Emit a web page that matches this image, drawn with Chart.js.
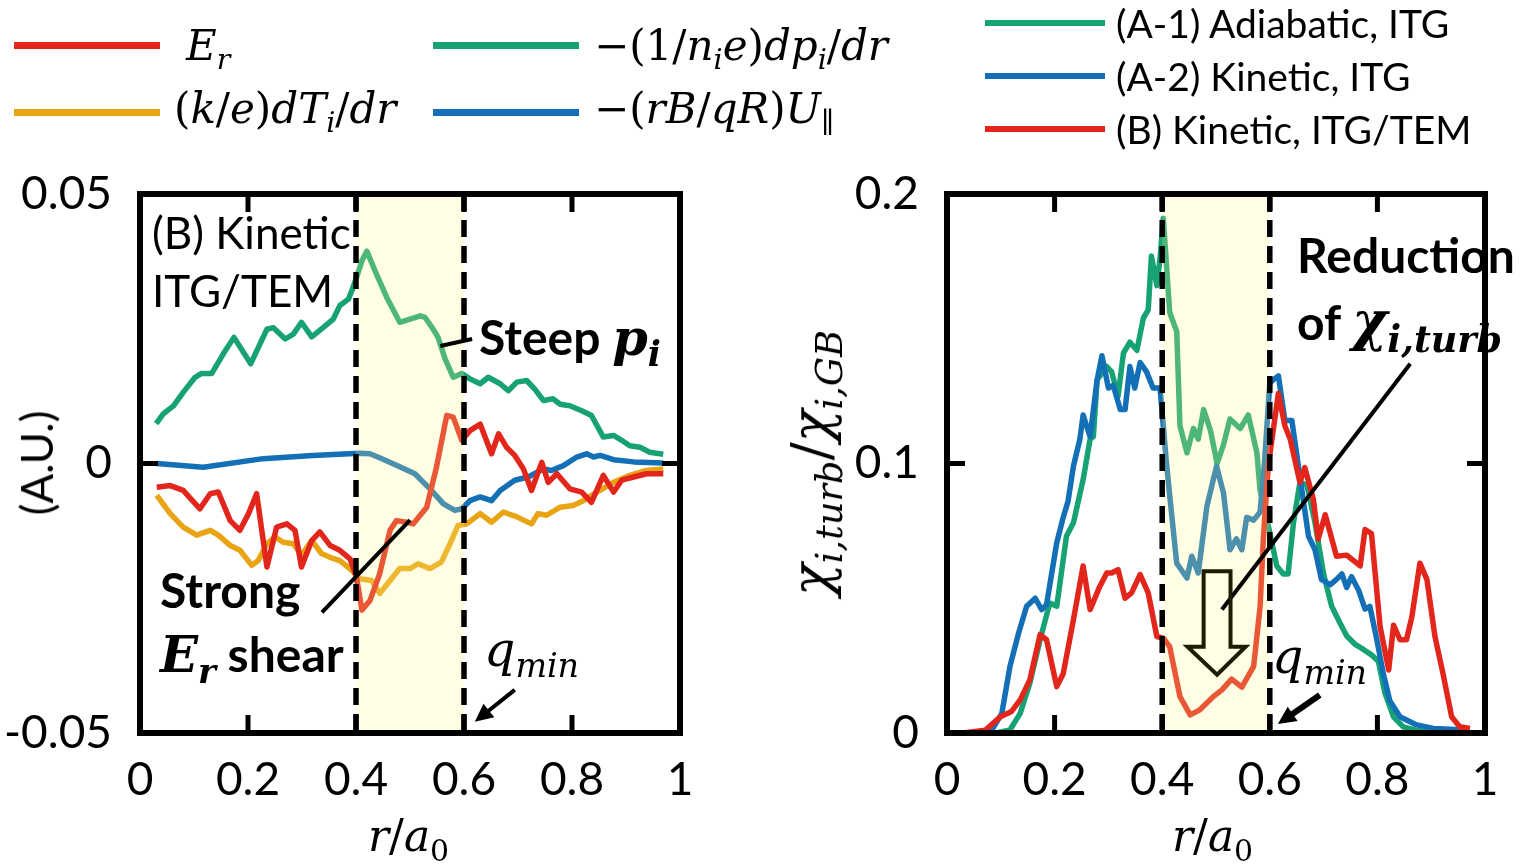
<!DOCTYPE html>
<html>
<head>
<meta charset="utf-8">
<script src="https://cdn.jsdelivr.net/npm/chart.js@4.4.1/dist/chart.umd.min.js"></script>
<style>
  html, body { margin: 0; padding: 0; background: #fff; }
  body { width: 1523px; height: 866px; position: relative; overflow: hidden; font-family: Lato, sans-serif; color: #000; }
  .panel { position: absolute; top: 0; height: 866px; }
  .t { position: absolute; white-space: nowrap; line-height: 1; }
  .m { font-family: 'DejaVu Serif', serif; }
  .m i { font-style: italic; }
  .m sub { font-size: 0.68em; vertical-align: -0.32em; line-height: 0; }
  .b { font-weight: bold; }
  .key { position: absolute; height: 7px; }
  .rot { transform: translate(-50%, -50%) rotate(-90deg); }
</style>
</head>
<body>
<div class="panel" style="left:0;width:760px"><canvas id="profiles"></canvas></div>
<div class="panel" style="left:760px;width:763px"><canvas id="chi"></canvas></div>

<!-- legende esquerda -->
<div class="key" style="left:14px;top:42px;width:146px;background:#E3261C"></div>
<div class="key" style="left:14px;top:109px;width:146px;background:#E8A413"></div>
<div class="key" style="left:433px;top:42px;width:146px;background:#17A276"></div>
<div class="key" style="left:433px;top:109px;width:146px;background:#1470B6"></div>
<div class="t m" style="left:186px;top:25px;font-size:42px"><i>E</i><sub><i>r</i></sub></div>
<div class="t m" style="left:174px;top:88px;font-size:42px">(<i>k</i>/<i>e</i>)<i>dT</i><sub><i>i</i></sub>/<i>dr</i></div>
<div class="t m" style="left:594px;top:25px;font-size:42px">−(1/<i>n</i><sub><i>i</i></sub><i>e</i>)<i>dp</i><sub><i>i</i></sub>/<i>dr</i></div>
<div class="t m" style="left:594px;top:88px;font-size:42px">−(<i>rB</i>/<i>qR</i>)<i>U</i><sub>∥</sub></div>

<!-- legende direita -->
<div class="key" style="left:985px;top:20px;width:120px;height:6px;background:#17A276"></div>
<div class="key" style="left:985px;top:73px;width:120px;height:6px;background:#1470B6"></div>
<div class="key" style="left:985px;top:126px;width:120px;height:6px;background:#E3261C"></div>
<div class="t" style="left:1116px;top:4px;font-size:39px">(A-1) Adiabatic, ITG</div>
<div class="t" style="left:1116px;top:57px;font-size:39px">(A-2) Kinetic, ITG</div>
<div class="t" style="left:1116px;top:110px;font-size:39px">(B) Kinetic, ITG/TEM</div>

<!-- textos do painel esquerdo -->
<div class="t" style="left:152px;top:210px;font-size:44px">(B) Kinetic</div>
<div class="t" style="left:152px;top:268px;font-size:44px">ITG/TEM</div>
<div class="t b" style="left:479px;top:312px;font-size:48px">Steep <span class="m" style="font-size:1.06em"><i>p</i><sub><i>i</i></sub></span></div>
<div class="t b" style="left:160px;top:566px;font-size:48px">Strong</div>
<div class="t b" style="left:160px;top:630px;font-size:48px"><span class="m" style="font-size:1.04em"><i>E</i><sub><i>r</i></sub></span> shear</div>
<div class="t m" style="left:484px;top:625px;font-size:49px"><i>q</i><sub><i>min</i></sub></div>
<div class="t rot" style="left:36px;top:463px;font-size:44px">(A.U.)</div>
<div class="t m" style="left:368px;top:814px;font-size:44px"><i>r</i>/<i>a</i><sub>0</sub></div>

<!-- textos do painel direito -->
<div class="t b" style="left:1297px;top:231px;font-size:48px">Reduction</div>
<div class="t b" style="left:1297px;top:295px;font-size:48px">of <span class="m" style="font-size:1.12em"><i>χ</i><sub><i>i,turb</i></sub></span></div>
<div class="t m" style="left:1272px;top:632px;font-size:49px"><i>q</i><sub><i>min</i></sub></div>
<div class="t m rot" style="left:812px;top:463px;font-size:54px"><i>χ</i><sub><i>i,turb</i></sub>/<i>χ</i><sub><i>i,GB</i></sub></div>
<div class="t m" style="left:1172px;top:814px;font-size:44px"><i>r</i>/<i>a</i><sub>0</sub></div>

<script>
// painel esquerdo: Er e seus componentes
const erX = [0.031,0.056,0.08,0.111,0.13,0.145,0.167,0.185,0.201,0.216,0.235,0.253,0.272,0.287,0.299,0.318,0.333,0.352,0.37,0.389,0.401,0.411,0.426,0.444,0.463,0.475,0.494,0.506,0.531,0.549,0.568,0.58,0.596,0.611,0.63,0.651,0.664,0.679,0.694,0.71,0.725,0.744,0.756,0.772,0.796,0.818,0.836,0.858,0.877,0.892,0.914,0.938,0.969];
const erY = [-0.0044,-0.0041,-0.005,-0.0084,-0.0056,-0.0053,-0.0106,-0.0124,-0.0093,-0.0056,-0.0192,-0.0118,-0.0112,-0.0124,-0.0192,-0.0143,-0.0127,-0.0152,-0.0161,-0.0177,-0.0211,-0.0272,-0.0254,-0.0204,-0.0124,-0.0106,-0.0109,-0.0112,-0.0081,-0.0007,0.0089,0.0086,0.0043,0.0061,0.0073,0.0018,0.0055,0.003,0.0015,-0.001,-0.005,0.0002,-0.0035,-0.0019,-0.0047,-0.0053,-0.0072,-0.0022,-0.0053,-0.0031,-0.0025,-0.0019,-0.0019];

const ktX = [0.031,0.056,0.08,0.105,0.13,0.145,0.167,0.185,0.207,0.219,0.235,0.25,0.265,0.284,0.299,0.318,0.336,0.352,0.37,0.392,0.407,0.429,0.444,0.463,0.481,0.5,0.515,0.537,0.558,0.574,0.589,0.605,0.63,0.651,0.673,0.698,0.725,0.737,0.753,0.778,0.802,0.821,0.846,0.877,0.907,0.938,0.969];
const ktY = [-0.0059,-0.0093,-0.0118,-0.0133,-0.0124,-0.0133,-0.0152,-0.0161,-0.0189,-0.018,-0.0149,-0.0136,-0.0146,-0.0149,-0.017,-0.0143,-0.0167,-0.0174,-0.018,-0.0198,-0.0214,-0.0217,-0.0241,-0.0217,-0.0195,-0.0195,-0.0186,-0.0195,-0.0183,-0.0149,-0.0115,-0.0112,-0.0093,-0.0109,-0.009,-0.0099,-0.0112,-0.0093,-0.0096,-0.0081,-0.0078,-0.0069,-0.0053,-0.0035,-0.0022,-0.0013,-0.001];

const dpX = [0.03,0.043,0.062,0.08,0.102,0.114,0.133,0.154,0.174,0.188,0.205,0.219,0.235,0.247,0.269,0.284,0.299,0.318,0.339,0.358,0.37,0.386,0.392,0.401,0.411,0.42,0.438,0.457,0.481,0.5,0.519,0.528,0.543,0.552,0.565,0.58,0.596,0.611,0.63,0.645,0.667,0.682,0.698,0.716,0.731,0.747,0.765,0.778,0.796,0.818,0.836,0.858,0.877,0.892,0.907,0.926,0.944,0.969];
const dpY = [0.0074,0.0092,0.0107,0.0132,0.016,0.0167,0.0167,0.0203,0.0234,0.0212,0.0185,0.0215,0.0249,0.0252,0.0231,0.024,0.0262,0.0235,0.0252,0.0268,0.0293,0.0305,0.032,0.0345,0.0376,0.0394,0.0351,0.0308,0.0262,0.0268,0.0274,0.0271,0.0249,0.0234,0.0194,0.016,0.0167,0.0157,0.0148,0.016,0.0148,0.0135,0.0151,0.0154,0.0138,0.0117,0.012,0.011,0.0107,0.0098,0.0089,0.0049,0.0052,0.0043,0.0033,0.003,0.0021,0.0017];

const ubX = [0.031,0.117,0.228,0.32,0.407,0.426,0.45,0.481,0.509,0.537,0.562,0.583,0.596,0.611,0.63,0.651,0.667,0.694,0.719,0.747,0.762,0.784,0.809,0.827,0.84,0.852,0.877,0.914,0.969];
const ubY = [0,-0.0007,0.0009,0.0015,0.0019,0.0018,0.0008,-0.0006,-0.0019,-0.0047,-0.0075,-0.0087,-0.0084,-0.0069,-0.0062,-0.0069,-0.005,-0.0031,-0.0025,-0.001,-0.0013,-0.0004,0.0012,0.0018,0.0012,0.0015,0.0007,0.0003,0.0001];

// painel direito: chi_i,turb
const a1X = [0.05,0.092,0.117,0.136,0.154,0.173,0.191,0.204,0.222,0.235,0.253,0.266,0.272,0.279,0.297,0.306,0.318,0.328,0.34,0.353,0.365,0.374,0.38,0.39,0.396,0.402,0.414,0.427,0.433,0.446,0.458,0.467,0.477,0.49,0.502,0.514,0.526,0.545,0.56,0.576,0.582,0.597,0.613,0.625,0.634,0.644,0.656,0.669,0.684,0.7,0.715,0.73,0.743,0.758,0.774,0.789,0.802,0.814,0.83,0.848,0.873,0.9];
const a1Y = [0,0,0.0011,0.0073,0.0185,0.0346,0.0482,0.047,0.073,0.078,0.094,0.109,0.11,0.131,0.136,0.134,0.125,0.141,0.145,0.142,0.154,0.157,0.177,0.166,0.176,0.191,0.156,0.149,0.114,0.104,0.113,0.109,0.12,0.112,0.1,0.107,0.1165,0.113,0.118,0.104,0.09,0.077,0.062,0.059,0.059,0.078,0.093,0.092,0.078,0.059,0.047,0.041,0.036,0.033,0.031,0.029,0.0265,0.0148,0.006,0.0023,0.001,0];

const a2X = [0.05,0.08,0.102,0.117,0.133,0.148,0.164,0.176,0.185,0.204,0.216,0.225,0.235,0.247,0.253,0.266,0.279,0.288,0.3,0.309,0.322,0.331,0.34,0.349,0.359,0.371,0.383,0.396,0.402,0.408,0.414,0.427,0.446,0.455,0.467,0.483,0.501,0.514,0.526,0.538,0.548,0.557,0.57,0.582,0.59,0.6,0.616,0.628,0.641,0.656,0.672,0.684,0.696,0.712,0.724,0.734,0.743,0.752,0.765,0.777,0.786,0.799,0.811,0.823,0.842,0.873,0.904,0.935,0.972];
const a2Y = [0,0,0.0073,0.0247,0.037,0.047,0.05,0.0458,0.0476,0.0706,0.08,0.086,0.099,0.109,0.118,0.11,0.131,0.14,0.128,0.129,0.12,0.12,0.136,0.128,0.1375,0.134,0.128,0.128,0.114,0.1,0.088,0.063,0.0575,0.0656,0.0594,0.084,0.099,0.089,0.068,0.072,0.068,0.08,0.079,0.082,0.1,0.13,0.1325,0.116,0.116,0.095,0.073,0.068,0.057,0.055,0.057,0.059,0.054,0.058,0.053,0.046,0.047,0.0346,0.022,0.012,0.006,0.003,0.0017,0.0014,0.001];

const bX = [0.03,0.071,0.099,0.12,0.136,0.154,0.173,0.185,0.204,0.216,0.235,0.253,0.266,0.284,0.297,0.306,0.318,0.331,0.343,0.359,0.374,0.39,0.402,0.414,0.433,0.452,0.47,0.495,0.511,0.529,0.548,0.57,0.582,0.588,0.597,0.604,0.616,0.628,0.638,0.656,0.665,0.681,0.69,0.703,0.724,0.743,0.768,0.777,0.789,0.805,0.821,0.83,0.842,0.854,0.864,0.879,0.892,0.907,0.922,0.938,0.953,0.972];
const bY = [0,0.001,0.006,0.008,0.0123,0.0197,0.0365,0.0346,0.0172,0.022,0.042,0.062,0.0458,0.0544,0.0594,0.0594,0.0606,0.05,0.052,0.0588,0.052,0.0358,0.0352,0.032,0.0135,0.0067,0.0086,0.0135,0.016,0.02,0.017,0.0247,0.047,0.072,0.099,0.109,0.126,0.114,0.109,0.093,0.0985,0.0867,0.072,0.081,0.0656,0.066,0.062,0.0755,0.074,0.0395,0.0234,0.04,0.0346,0.0346,0.043,0.063,0.057,0.0358,0.022,0.006,0.0023,0.0017];

const xTicks = [0, 0.2, 0.4, 0.6, 0.8, 1];
const bandX = [0.4, 0.6];

function pts(xs, ys) {
  return xs.map((x, i) => ({ x: x, y: ys[i] }));
}

function linha(label, xs, ys, cor) {
  return { label: label, data: pts(xs, ys), borderColor: cor, borderWidth: 5.5, pointRadius: 0, borderJoinStyle: 'round', tension: 0 };
}

// desenha faixa, tracejado, moldura, marcas e setas
function decor(cfg) {
  return {
    id: 'decor',
    afterDatasetsDraw(chart) {
      const ctx = chart.ctx, a = chart.chartArea;
      const sx = chart.scales.x, sy = chart.scales.y;
      const px = v => sx.getPixelForValue(v);
      const py = v => sy.getPixelForValue(v);
      ctx.save();
      const x0 = px(bandX[0]), x1 = px(bandX[1]);
      ctx.fillStyle = 'rgba(255,246,140,0.24)';
      ctx.fillRect(x0, a.top, x1 - x0, a.bottom - a.top);

      ctx.strokeStyle = '#000';
      ctx.lineWidth = 5.5;
      ctx.setLineDash([17, 9]);
      bandX.forEach(v => {
        ctx.beginPath();
        ctx.moveTo(px(v), a.top);
        ctx.lineTo(px(v), a.bottom);
        ctx.stroke();
      });
      ctx.setLineDash([]);

      ctx.lineWidth = 4;
      cfg.pointers.forEach(p => {
        ctx.beginPath();
        ctx.moveTo(px(p[0]), py(p[1]));
        ctx.lineTo(px(p[2]), py(p[3]));
        ctx.stroke();
      });

      // seta q_min
      const q = cfg.arrow;
      const ax = px(q[0]), ay = py(q[1]), bx = px(q[2]), by = py(q[3]);
      const ang = Math.atan2(by - ay, bx - ax);
      ctx.lineWidth = q[4];
      ctx.beginPath();
      ctx.moveTo(ax, ay);
      ctx.lineTo(bx - Math.cos(ang) * 6, by - Math.sin(ang) * 6);
      ctx.stroke();
      ctx.beginPath();
      ctx.moveTo(bx, by);
      ctx.lineTo(bx - 20 * Math.cos(ang - 0.45), by - 20 * Math.sin(ang - 0.45));
      ctx.lineTo(bx - 20 * Math.cos(ang + 0.45), by - 20 * Math.sin(ang + 0.45));
      ctx.closePath();
      ctx.fillStyle = '#000';
      ctx.fill();

      if (cfg.hollow) {
        const h = cfg.hollow; // [xEsq, xDir, yTopo, yBase, xCabEsq, xCabDir, yPonta]
        const mid = (h[0] + h[1]) / 2;
        ctx.strokeStyle = '#1c1c00';
        ctx.lineWidth = 4;
        ctx.lineJoin = 'miter';
        ctx.beginPath();
        ctx.moveTo(px(h[0]), py(h[2]));
        ctx.lineTo(px(h[0]), py(h[3]));
        ctx.lineTo(px(h[4]), py(h[3]));
        ctx.lineTo(px(mid), py(h[6]));
        ctx.lineTo(px(h[5]), py(h[3]));
        ctx.lineTo(px(h[1]), py(h[3]));
        ctx.lineTo(px(h[1]), py(h[2]));
        ctx.closePath();
        ctx.stroke();
      }

      // moldura e marcas para dentro
      ctx.strokeStyle = '#000';
      ctx.lineWidth = 6;
      ctx.strokeRect(a.left, a.top, a.right - a.left, a.bottom - a.top);
      ctx.lineWidth = 5;
      xTicks.slice(1, -1).forEach(v => {
        const x = px(v);
        ctx.beginPath();
        ctx.moveTo(x, a.bottom); ctx.lineTo(x, a.bottom - 18);
        ctx.moveTo(x, a.top); ctx.lineTo(x, a.top + 18);
        ctx.stroke();
      });
      cfg.yInner.forEach(v => {
        const y = py(v);
        ctx.beginPath();
        ctx.moveTo(a.left, y); ctx.lineTo(a.left + 18, y);
        ctx.moveTo(a.right, y); ctx.lineTo(a.right - 18, y);
        ctx.stroke();
      });
      ctx.restore();
    }
  };
}

function opcoes(yMin, yMax, yStep, yWidth, padRight) {
  const fmt = v => String(+Number(v).toFixed(2));
  return {
    responsive: true,
    maintainAspectRatio: false,
    animation: false,
    layout: { padding: { top: 194, right: padRight, bottom: 0, left: 0 } },
    plugins: { legend: { display: false }, tooltip: { enabled: false } },
    scales: {
      x: {
        type: 'linear', min: 0, max: 1,
        afterBuildTicks: s => { s.ticks = xTicks.map(v => ({ value: v })); },
        ticks: { callback: fmt, padding: 12, color: '#000', font: { family: 'Lato', size: 46 }, maxRotation: 0 },
        grid: { display: false },
        border: { display: false },
        afterFit: s => { s.height = 133; }
      },
      y: {
        min: yMin, max: yMax,
        ticks: { stepSize: yStep, callback: fmt, padding: 20, color: '#000', font: { family: 'Lato', size: 46 } },
        grid: { display: false },
        border: { display: false },
        afterFit: s => { s.width = yWidth; }
      }
    }
  };
}

new Chart(document.getElementById('profiles'), {
  type: 'line',
  data: {
    datasets: [
      linha('Er', erX, erY, '#E3261C'),
      linha('(k/e)dTi/dr', ktX, ktY, '#E8A413'),
      linha('-(1/nie)dpi/dr', dpX, dpY, '#17A276'),
      linha('-(rB/qR)U', ubX, ubY, '#1470B6')
    ]
  },
  options: opcoes(-0.05, 0.05, 0.05, 140, 80),
  plugins: [decor({
    pointers: [[0.556, 0.0218, 0.615, 0.0231], [0.337, -0.0276, 0.5, -0.0105]],
    arrow: [0.694, -0.042, 0.62, -0.0479, 4],
    yInner: [0]
  })]
});

new Chart(document.getElementById('chi'), {
  type: 'line',
  data: {
    datasets: [
      linha('(B) Kinetic, ITG/TEM', bX, bY, '#E3261C'),
      linha('(A-2) Kinetic, ITG', a2X, a2Y, '#1470B6'),
      linha('(A-1) Adiabatic, ITG', a1X, a1Y, '#17A276')
    ]
  },
  options: opcoes(0, 0.2, 0.1, 187, 38),
  plugins: [decor({
    pointers: [[0.861, 0.137, 0.511, 0.0458]],
    arrow: [0.693, 0.0141, 0.615, 0.0033, 6],
    yInner: [0.1],
    hollow: [0.477, 0.527, 0.060, 0.032, 0.447, 0.555, 0.0216]
  })]
});
</script>
</body>
</html>
